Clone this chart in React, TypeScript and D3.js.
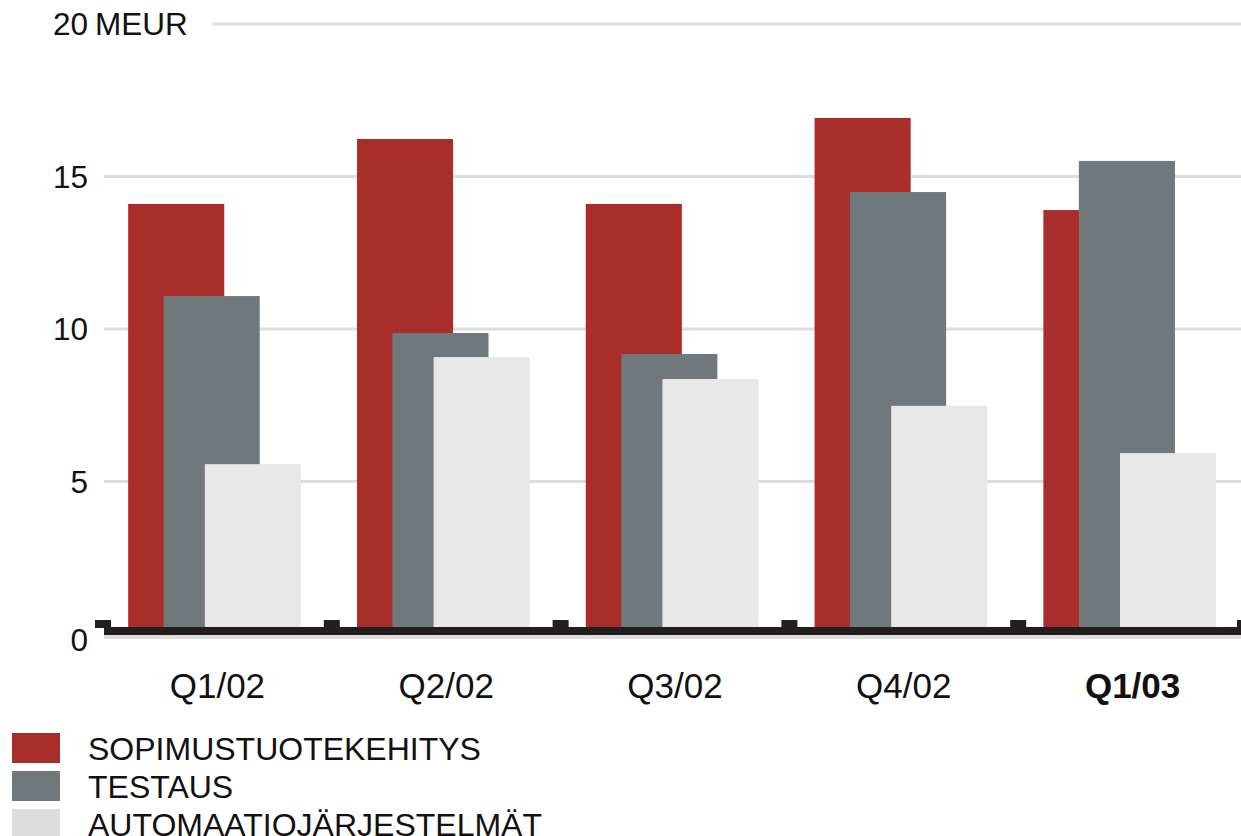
import React from "react";
import * as d3 from "d3";

const categories = ["Q1/02", "Q2/02", "Q3/02", "Q4/02", "Q1/03"];
const seriesNames = ["SOPIMUSTUOTEKEHITYS", "TESTAUS", "AUTOMAATIOJÄRJESTELMÄT"];
const sopimus = [14.1, 16.23, 14.1, 16.92, 13.9];
const testaus = [11.08, 9.87, 9.18, 14.49, 15.51];
const automaatio = [5.57, 9.08, 8.36, 7.48, 5.93];
const yTicks = [0, 5, 10, 15, 20];

const colors = ["#A92E2A", "#6F787A", "#E8E8E8"];
const legendColors = ["#A92E2A", "#6F787A", "#DDDDDD"];
const FONT = "'Liberation Sans', Arial, sans-serif";

export default function App() {
  const W = 1241, H = 836;
  const series = [sopimus, testaus, automaatio];
  const x = d3.scaleBand<string>().domain(categories).range([103, 1247]).padding(0);
  const y = d3.scaleLinear().domain([0, 20]).range([634, 24]);
  const bw = x.bandwidth();
  const barW = bw * 0.42;
  const offsets = [0.11, 0.265, 0.445];
  const base = y(0);

  return (
    <svg width={W} height={H} style={{ position: "absolute", left: 0, top: 0, background: "#fff" }} fontFamily={FONT}>
      {/* gridlines */}
      {yTicks.filter(t => t > 0).map(t => (
        <line key={t} x1={t === 20 ? 212 : 104} x2={W} y1={y(t)} y2={y(t)} stroke="#DDDDDD" strokeWidth={3} />
      ))}
      {/* y labels */}
      {yTicks.map(t => (
        <text key={t} x={88} y={t === 0 ? y(t) + 6 : y(t)} dy="0.35em" textAnchor="end" fontSize={31.5} fill="#111">
          {t}
        </text>
      ))}
      <text x={95} y={y(20)} dy="0.35em" fontSize={31.5} fill="#111">MEUR</text>
      {/* bars */}
      {series.map((vals, si) =>
        categories.map((c, ci) => (
          <rect key={si + "-" + ci} x={(x(c) as number) + bw * offsets[si]} y={y(vals[ci])}
            width={barW} height={base - y(vals[ci])} fill={colors[si]} />
        ))
      )}
      {/* baseline */}
      <rect x={104} y={base + 1} width={W - 104} height={4} fill="#DDDDDD" />
      <rect x={104} y={base - 7} width={W - 104} height={8} fill="#231F1E" />
      {[...categories.map(c => x(c) as number), 1245].map((bx, i) => (
        <rect key={i} x={bx - 8} y={base - 14} width={16} height={8} fill="#231F1E" />
      ))}
      {/* x labels */}
      {categories.map((c, i) => (
        <text key={c} x={(x(c) as number) + bw / 2} y={698} textAnchor="middle" fontSize={35}
          fontWeight={i === categories.length - 1 ? "bold" : "normal"} fill="#111">
          {c}
        </text>
      ))}
      {/* legend */}
      {seriesNames.map((n, i) => (
        <g key={n} transform={`translate(0, ${733 + i * 38})`}>
          <rect x={12} y={0} width={48} height={30} fill={legendColors[i]} />
          <text x={88} y={27} fontSize={32} fill="#111">{n}</text>
        </g>
      ))}
    </svg>
  );
}
